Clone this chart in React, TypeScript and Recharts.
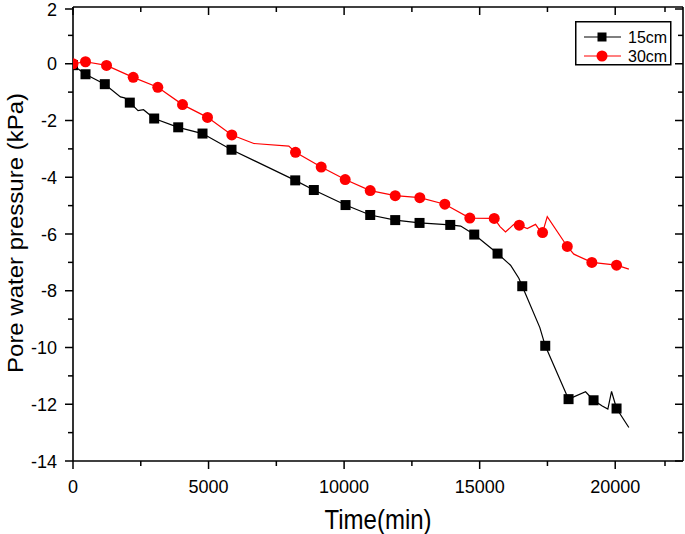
import React from "react";
import { ComposedChart, Line, Scatter, XAxis, YAxis, Label } from "recharts";

// 15cm curve (time in min, pressure in kPa)
const t15 = [0, 461, 1173, 1750, 1900, 2095, 2400, 2600, 2995, 3881, 4777, 5847, 8197, 8883, 10053, 10963, 11885, 12782, 13915, 14300, 14800, 15660, 16139, 16445, 16571, 17220, 17419, 18279, 18906, 19201, 19522, 19728, 19865, 20049, 20503];
const p15 = [-0.05, -0.37, -0.72, -1.17, -1.2, -1.37, -1.65, -1.62, -1.93, -2.24, -2.46, -3.03, -4.11, -4.45, -4.98, -5.33, -5.51, -5.61, -5.68, -5.72, -6.02, -6.69, -7.1, -7.56, -7.84, -9.3, -9.94, -11.82, -11.56, -11.86, -12.06, -12.17, -11.55, -12.15, -12.82];
const m15Time = [0, 461, 1173, 2095, 2995, 3881, 4777, 5847, 8197, 8883, 10053, 10963, 11885, 12782, 13915, 14800, 15660, 16571, 17419, 18279, 19201, 20049];
const m15P = [-0.05, -0.37, -0.72, -1.37, -1.93, -2.24, -2.46, -3.03, -4.11, -4.45, -4.98, -5.33, -5.51, -5.61, -5.68, -6.02, -6.69, -7.84, -9.94, -11.82, -11.86, -12.15];

// 30cm curve
const t30 = [0, 461, 1236, 2221, 3128, 4039, 4961, 5858, 6669, 7960, 8207, 9155, 10040, 10963, 11885, 12793, 13715, 14637, 15537, 15750, 15954, 16260, 16459, 16755, 17061, 17183, 17320, 17493, 18231, 18474, 19138, 20049, 20503];
const p30 = [0, 0.07, -0.06, -0.48, -0.83, -1.44, -1.89, -2.51, -2.81, -2.9, -3.12, -3.64, -4.08, -4.47, -4.65, -4.72, -4.95, -5.44, -5.45, -5.74, -5.93, -5.66, -5.69, -5.81, -5.66, -5.83, -5.95, -5.39, -6.44, -6.71, -7.0, -7.1, -7.24];
const m30Time = [0, 461, 1236, 2221, 3128, 4039, 4961, 5858, 8207, 9155, 10040, 10963, 11885, 12793, 13715, 14637, 15537, 16459, 17320, 18231, 19138, 20049];
const m30P = [0, 0.07, -0.06, -0.48, -0.83, -1.44, -1.89, -2.51, -3.12, -3.64, -4.08, -4.47, -4.65, -4.72, -4.95, -5.44, -5.45, -5.69, -5.95, -6.44, -7.0, -7.1];

const xTicks = [0, 2500, 5000, 7500, 10000, 12500, 15000, 17500, 20000, 22500];
const yTicks = [-14, -13, -12, -11, -10, -9, -8, -7, -6, -5, -4, -3, -2, -1, 0, 1, 2];

const zip = (ts: number[], ps: number[]) => ts.map((t, i) => ({ t, p: ps[i] }));
const line15 = zip(t15, p15);
const line30 = zip(t30, p30);
const marks15 = zip(m15Time, m15P);
const marks30 = zip(m30Time, m30P);

const FONT = "'Liberation Sans', Arial, sans-serif";

const BottomTick = (props: any) => {
  const { x, y, payload } = props;
  const major = payload.value % 5000 === 0;
  return (
    <g>
      <line x1={x} y1={y} x2={x} y2={y + (major ? 8 : 5)} stroke="#000" strokeWidth={1.5} />
      {major && (
        <text x={x} y={y + 32} textAnchor="middle" fontSize={18} fontFamily={FONT} fill="#000">
          {payload.value}
        </text>
      )}
    </g>
  );
};

const TopTick = (props: any) => {
  const { x, y, payload } = props;
  const major = payload.value % 5000 === 0;
  return <line x1={x} y1={y} x2={x} y2={y + (major ? 8 : 5)} stroke="#000" strokeWidth={1.5} />;
};

const LeftTick = (props: any) => {
  const { x, y, payload } = props;
  const major = payload.value % 2 === 0;
  return (
    <g>
      <line x1={x - (major ? 8 : 5)} y1={y} x2={x} y2={y} stroke="#000" strokeWidth={1.5} />
      {major && (
        <text x={x - 16} y={y + 6.5} textAnchor="end" fontSize={18} fontFamily={FONT} fill="#000">
          {payload.value}
        </text>
      )}
    </g>
  );
};

const RightTick = (props: any) => {
  const { x, y, payload } = props;
  const major = payload.value % 2 === 0;
  return <line x1={x - (major ? 8 : 5)} y1={y} x2={x} y2={y} stroke="#000" strokeWidth={1.5} />;
};

const XTitle = (props: any) => {
  const vb = props.viewBox;
  const cx = vb.x + vb.width / 2;
  return (
    <text transform={`translate(${cx}, 529) scale(0.89, 1)`} textAnchor="middle" fontSize={27} fontFamily={FONT} fill="#000">
      Time(min)
    </text>
  );
};

const YTitle = (props: any) => {
  const vb = props.viewBox;
  const cy = vb.y + vb.height / 2 - 1;
  return (
    <text transform={`translate(23, ${cy}) rotate(-90) scale(1, 0.89)`} textAnchor="middle" fontSize={24} fontFamily={FONT} fill="#000">
      Pore water pressure (kPa)
    </text>
  );
};

const square = (p: any) => <rect x={p.cx - 5} y={p.cy - 5} width={10} height={10} fill="#000" />;
const dot = (p: any) => <circle cx={p.cx} cy={p.cy} r={5.5} fill="#ff0000" />;

const LegendBox = () => (
  <svg width={97} height={45} style={{ position: "absolute", left: 575, top: 21 }}>
    <rect x={0.75} y={0.75} width={95} height={43} fill="#fff" stroke="#000" strokeWidth={1.5} />
    <line x1={9} y1={16} x2={46} y2={16} stroke="#000" strokeWidth={1.2} />
    <rect x={22.5} y={11.5} width={9} height={9} fill="#000" />
    <text x={53} y={21.5} fontSize={16} fontFamily={FONT} fill="#000">15cm</text>
    <line x1={9} y1={35} x2={46} y2={35} stroke="#ff0000" strokeWidth={1.2} />
    <circle cx={27} cy={35} r={5.5} fill="#ff0000" />
    <text x={53} y={40.5} fontSize={16} fontFamily={FONT} fill="#000">30cm</text>
  </svg>
);

export default function App() {
  return (
    <div style={{ position: "absolute", left: 0, top: 0, width: 685, height: 534, background: "#fff" }}>
      <ComposedChart width={685} height={534} margin={{ top: 6, right: 1, bottom: 72, left: 72 }}>
        <XAxis
          dataKey="t"
          type="number"
          domain={[0, 22500]}
          ticks={xTicks}
          height={1}
          tickSize={0}
          tickMargin={0}
          tickLine={false}
          tick={<BottomTick />}
          axisLine={{ stroke: "#000", strokeWidth: 1.6 }}
          allowDataOverflow
        >
          <Label content={<XTitle />} />
        </XAxis>
        <XAxis
          xAxisId="top"
          orientation="top"
          dataKey="t"
          type="number"
          domain={[0, 22500]}
          ticks={xTicks}
          height={1}
          tickSize={0}
          tickMargin={0}
          tickLine={false}
          tick={<TopTick />}
          axisLine={{ stroke: "#000", strokeWidth: 1.6 }}
          allowDataOverflow
        />
        <YAxis
          dataKey="p"
          type="number"
          domain={[-14, 2]}
          ticks={yTicks}
          width={1}
          tickSize={0}
          tickMargin={0}
          tickLine={false}
          tick={<LeftTick />}
          axisLine={{ stroke: "#000", strokeWidth: 1.6 }}
          allowDataOverflow
        >
          <Label content={<YTitle />} />
        </YAxis>
        <YAxis
          yAxisId="right"
          orientation="right"
          dataKey="p"
          type="number"
          domain={[-14, 2]}
          ticks={yTicks}
          width={1}
          tickSize={0}
          tickMargin={0}
          tickLine={false}
          tick={<RightTick />}
          axisLine={{ stroke: "#000", strokeWidth: 1.6 }}
          allowDataOverflow
        />
        <Line data={line15} dataKey="p" type="linear" stroke="#000" strokeWidth={1.2} dot={false} isAnimationActive={false} />
        <Scatter data={marks15} shape={square} isAnimationActive={false} />
        <Line data={line30} dataKey="p" type="linear" stroke="#ff0000" strokeWidth={1.2} dot={false} isAnimationActive={false} />
        <Scatter data={marks30} shape={dot} isAnimationActive={false} />
      </ComposedChart>
      <LegendBox />
    </div>
  );
}
